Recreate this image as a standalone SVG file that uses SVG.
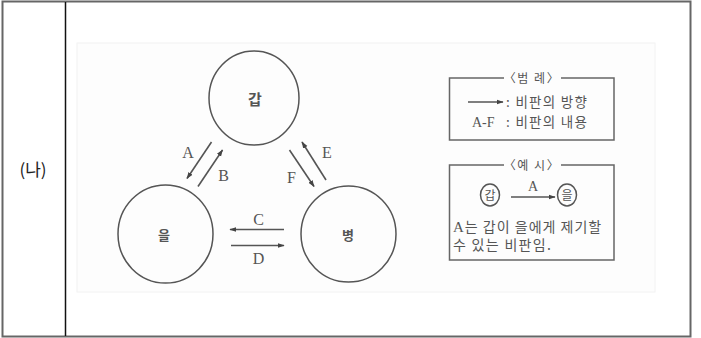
<svg xmlns="http://www.w3.org/2000/svg" width="701" height="338" viewBox="0 0 701 338">
<defs>
<marker id="ah" viewBox="0 0 10 10" refX="9" refY="5" markerWidth="7" markerHeight="7" orient="auto" markerUnits="userSpaceOnUse">
<path d="M0,1.5 L10,5 L0,8.5 z" fill="#444"/>
</marker>
<style>
.kr{font-family:"Noto Sans CJK KR","Noto Sans",sans-serif;fill:#555;}
.lat{font-family:"Liberation Serif",serif;fill:#555;}
.node{fill:none;stroke:#555;stroke-width:1.5;}
.arr{stroke:#555;stroke-width:1.6;fill:none;marker-end:url(#ah);}
.box{fill:none;stroke:#666;stroke-width:1.5;}
</style>
</defs>
<rect x="0" y="0" width="701" height="338" fill="#fff"/>
<g id="table">
<rect x="2.5" y="1.5" width="688" height="335" fill="none" stroke="#666" stroke-width="2"/>
<line x1="65.5" y1="2" x2="65.5" y2="336" stroke="#111" stroke-width="1.5"/>
<text x="33" y="176" font-family="Noto Sans CJK KR, sans-serif" font-size="17" fill="#222" text-anchor="middle">(나)</text>
</g>
<rect x="77" y="43" width="578" height="249" fill="#fdfdfd" stroke="#f2f2f2" stroke-width="1"/>
<g id="gap">
<ellipse class="node" cx="254" cy="98" rx="45" ry="47"/>
<text class="kr" x="255" y="105" font-size="15" text-anchor="middle" font-weight="bold">갑</text>
</g>
<g id="eul">
<ellipse class="node" cx="165.5" cy="234" rx="47.5" ry="49"/>
<text class="kr" x="164" y="240" font-size="13" text-anchor="middle" font-weight="bold">을</text>
</g>
<g id="byeong">
<ellipse class="node" cx="348.5" cy="234" rx="47.5" ry="48"/>
<text class="kr" x="348" y="240" font-size="13" text-anchor="middle" font-weight="bold">병</text>
</g>
<g id="connectors">
<line class="arr" x1="211.5" y1="142" x2="187" y2="178.5"/>
<line class="arr" x1="198" y1="186.5" x2="222.5" y2="150"/>
<line class="arr" x1="289.5" y1="150" x2="314" y2="186.5"/>
<line class="arr" x1="326" y1="180" x2="302" y2="142"/>
<line class="arr" x1="284" y1="229.5" x2="230" y2="229.5"/>
<line class="arr" x1="231" y1="245.5" x2="284" y2="245.5"/>
<text class="lat" x="188" y="158" font-size="16" text-anchor="middle">A</text>
<text class="lat" x="223.5" y="181" font-size="16" text-anchor="middle">B</text>
<text class="lat" x="327" y="158" font-size="16" text-anchor="middle">E</text>
<text class="lat" x="291.5" y="182.5" font-size="16" text-anchor="middle">F</text>
<text class="lat" x="258.5" y="225" font-size="16" text-anchor="middle">C</text>
<text class="lat" x="258.5" y="264" font-size="16" text-anchor="middle">D</text>
</g>
<g id="legend">
<path class="box" d="M504,78 H449.5 V140 H614 V78 H561"/>
<text class="kr" x="532" y="82.5" font-size="12" letter-spacing="1.5" text-anchor="middle">〈범 례〉</text>
<line class="arr" x1="468" y1="102" x2="503" y2="102"/>
<text class="kr" x="506" y="107" font-size="13.5" letter-spacing="1.3">: 비판의 방향</text>
<text class="lat" x="472" y="127" font-size="14">A-F</text>
<text class="kr" x="506" y="127" font-size="13.5" letter-spacing="1.3">: 비판의 내용</text>
</g>
<g id="example">
<path class="box" d="M504,165 H449.5 V260 H614 V165 H561"/>
<text class="kr" x="532" y="169.5" font-size="12" letter-spacing="1.5" text-anchor="middle">〈예 시〉</text>
<ellipse class="node" cx="490" cy="195" rx="9.5" ry="11" stroke-width="1.3"/>
<text class="kr" x="490" y="199.5" font-size="12" text-anchor="middle">갑</text>
<ellipse class="node" cx="567" cy="195" rx="9.5" ry="11" stroke-width="1.3"/>
<text class="kr" x="567" y="199.5" font-size="12" text-anchor="middle">을</text>
<line class="arr" x1="511" y1="197" x2="555" y2="197"/>
<text class="lat" x="533" y="191" font-size="14" text-anchor="middle">A</text>
<text class="kr" x="453" y="232" font-size="14" letter-spacing="1"><tspan class="lat" font-size="15">A</tspan>는 갑이 을에게 제기할</text>
<text class="kr" x="453" y="250" font-size="14" letter-spacing="1.3">수 있는 비판임.</text>
</g>
</svg>
